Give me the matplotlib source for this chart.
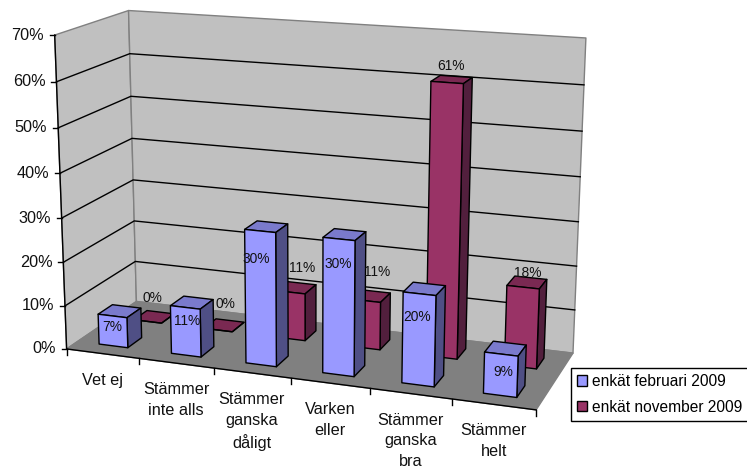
from matplotlib import pyplot as plt
from matplotlib.patches import Polygon, Patch
import numpy as np

categories = ["Vet ej", "Stämmer\ninte alls", "Stämmer\nganska\ndåligt", "Varken\neller",
              "Stämmer\nganska\nbra", "Stämmer\nhelt"]
feb_2009 = [7, 11, 30, 30, 20, 9]
nov_2009 = [0, 0, 11, 11, 61, 18]
y_ticks = [0, 10, 20, 30, 40, 50, 60, 70]
series_names = ["enkät februari 2009", "enkät november 2009"]

# label offsets in pixels from the top centre of each bar
feb_label_dx = [0, 2, -4, -1, -2, 2]
feb_label_dy = [11, 14, 28, 25, 23, 18]
nov_label_dx = [5, 7, 12, 12, 4, 5]
nov_label_dy = [-23, -26, -24, -29, -17, -14]

plt.rcParams['font.family'] = ['Liberation Sans', 'DejaVu Sans']

W, H = 747, 468
fig = plt.figure(figsize=(W / 100, H / 100), dpi=100)
ax = fig.add_axes([0, 0, 1, 1])
ax.set_xlim(0, W)
ax.set_ylim(H, 0)
ax.axis('off')

# box corners seen in the picture: (along, depth, value) -> pixel
known_3d = [(0, 0, 0), (0, 0, 70), (0, 1, 0), (0, 1, 70), (1, 1, 0), (1, 1, 70), (1, 0, 0),
            (0, 0, 30), (0, 1, 30)]
known_px = [(67, 349), (54, 35), (136, 302), (129, 11), (573, 353), (586, 38), (536, 410),
            (62, 218), (133, 179)]

A = []
b = []
for (x, d, z), (u, v) in zip(known_3d, known_px):
    A.append([x, d, z, 1, 0, 0, 0, 0, -u * x, -u * d, -u * z])
    b.append(u)
    A.append([0, 0, 0, 0, x, d, z, 1, -v * x, -v * d, -v * z])
    b.append(v)
p = np.linalg.lstsq(np.array(A, float), np.array(b, float), rcond=None)[0]
P = np.append(p, 1).reshape(3, 4)


def project(x, d, z):
    u, v, w = P @ np.array([x, d, z, 1.0])
    return u / w, v / w


def face(points, color, zorder=1, edge='black', lw=1.0):
    ax.add_patch(Polygon([project(*pt) for pt in points], closed=True, facecolor=color,
                         edgecolor=edge, linewidth=lw, zorder=zorder, joinstyle='round'))


# walls and floor
face([(0, 0, 0), (0, 1, 0), (0, 1, 70), (0, 0, 70)], '#C0C0C0', edge='#808080')
face([(0, 1, 0), (1, 1, 0), (1, 1, 70), (0, 1, 70)], '#C0C0C0', edge='#808080')
face([(0, 0, 0), (1, 0, 0), (1, 1, 0), (0, 1, 0)], '#808080', edge='#808080')

# gridlines
for t in y_ticks[1:-1]:
    pts = [project(0, 0, t), project(0, 1, t), project(1, 1, t)]
    ax.plot([q[0] for q in pts], [q[1] for q in pts], color='black', lw=1.0, zorder=2)

# axes
a0, a1 = project(0, 0, 0), project(0, 0, 70)
ax.plot([a0[0], a1[0]], [a0[1], a1[1]], color='black', lw=1.0, zorder=2)
e1 = project(1, 0, 0)
ax.plot([a0[0], e1[0]], [a0[1], e1[1]], color='black', lw=1.0, zorder=2)
for t in y_ticks:
    u, v = project(0, 0, t)
    ax.plot([u - 5, u], [v, v], color='black', lw=1.0, zorder=2)
    ax.text(u - 11, v, str(t) + "%", ha='right', va='center', fontsize=11.7, color='#111111')

n = len(categories)
for i in range(n + 1):
    u, v = project(i / n, 0, 0)
    ax.plot([u, u], [v, v + 6], color='black', lw=1.0, zorder=2)
for i, name in enumerate(categories):
    u, v = project((i + 0.5) / n, 0, 0)
    ax.text(u, v + 19, name, ha='center', va='top', fontsize=11.7, color='#111111', linespacing=1.48)


def bar(i, val, d0, d1, front, top, side):
    x0 = (i + 0.5) / n - 0.2 / n
    x1 = (i + 0.5) / n + 0.2 / n
    face([(x0, d0, val), (x1, d0, val), (x1, d1, val), (x0, d1, val)], top, zorder=3)
    face([(x1, d0, 0), (x1, d1, 0), (x1, d1, val), (x1, d0, val)], side, zorder=3)
    face([(x0, d0, 0), (x1, d0, 0), (x1, d0, val), (x0, d0, val)], front, zorder=3)


# back row first so the front row covers it
for i, val in enumerate(nov_2009):
    bar(i, val, 0.65, 0.85, '#993366', '#7A2952', '#521F3D')
for i, val in enumerate(feb_2009):
    bar(i, val, 0.15, 0.35, '#9999FF', '#7A7ACC', '#4F4F85')

for i, val in enumerate(nov_2009):
    u, v = project((i + 0.5) / n, 0.65, val)
    ax.text(u + nov_label_dx[i], v + nov_label_dy[i], str(val) + "%", ha='center', va='center',
            fontsize=9.9, color='#111111', zorder=5)
for i, val in enumerate(feb_2009):
    u, v = project((i + 0.5) / n, 0.15, val)
    ax.text(u + feb_label_dx[i], v + feb_label_dy[i], str(val) + "%", ha='center', va='center',
            fontsize=9.9, color='#111111', zorder=5)

handles = [Patch(facecolor='#9999FF', edgecolor='black'), Patch(facecolor='#993366', edgecolor='black')]
leg = ax.legend(handles, series_names, loc='upper left', bbox_to_anchor=(571 / W, 1 - 368 / H),
                borderaxespad=0, fancybox=False, framealpha=1, edgecolor='black', fontsize=11.2,
                handlelength=0.64, handleheight=0.64, handletextpad=0.32, labelspacing=0.7,
                borderpad=0.38)
leg.get_frame().set_linewidth(1.0)
leg.set_zorder(6)

plt.savefig("out.png", dpi=100)
